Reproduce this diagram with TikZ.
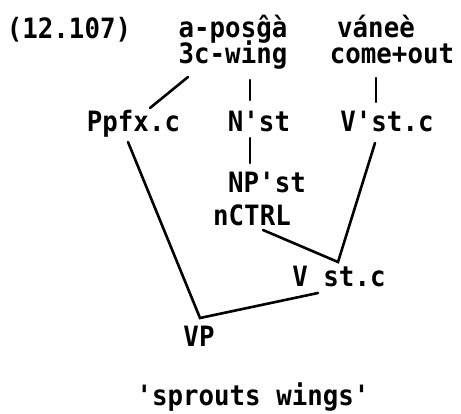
\documentclass[tikz,border=0pt]{standalone}
\usepackage{fontspec}
\newfontfamily\lf{DejaVu Sans Mono}[Ligatures=TeXOff,FakeStretch=0.92]
\usetikzlibrary{calc}
\begin{document}
\begin{tikzpicture}[x=1pt,y=-1pt,
  lbl/.style={anchor=base,inner sep=0pt,font=\lf\bfseries\fontsize{28}{30}\selectfont},
  conn/.style={line width=2.6pt,line cap=round}]
\useasboundingbox (0,0) rectangle (461,413);
\node[lbl] (ex) at (69,38) {(12.107)};
\node[lbl] (apos) at (233,37) {a-posĝà};
\node[lbl] (wing) at (233,63) {3c-wing};
\node[lbl] (vanee) at (376,37) {váneè};
\node[lbl] (come) at (392,63) {come+out};
\node[lbl] (ppfx) at (133.5,131) {Ppfx.c};
\node[lbl] (nst) at (259,131) {N'st};
\node[lbl] (vst) at (387,131) {V'st.c};
\node[lbl] (npst) at (267,192) {NP'st};
\node[lbl] (nctrl) at (252,225) {nCTRL};
\node[lbl] (vstc) at (339,286) {V st.c};
\node[lbl] (vp) at (199,346) {VP};
\node[lbl] (gloss) at (253,405) {'sprouts wings'};
\draw[conn] ($(wing.base)+(-45,14)$) -- ($(ppfx.base)+(16.5,-23)$);
\draw[conn] ($(wing.base)+(17,17)$) -- ($(nst.base)+(-9,-31)$);
\draw[conn] ($(come.base)+(-16,15)$) -- ($(vst.base)+(-11,-29)$);
\draw[conn] ($(nst.base)+(-9,7)$) -- ($(npst.base)+(-17,-29)$);
\draw[conn] ($(ppfx.base)+(-5.5,11)$) -- ($(vp.base)+(1,-28)$) -- ($(vstc.base)+(-21,7)$);
\draw[conn] ($(nctrl.base)+(11,5)$) -- ($(vstc.base)+(-1,-24)$) -- ($(vst.base)+(-12,12)$);
\end{tikzpicture}
\end{document}
